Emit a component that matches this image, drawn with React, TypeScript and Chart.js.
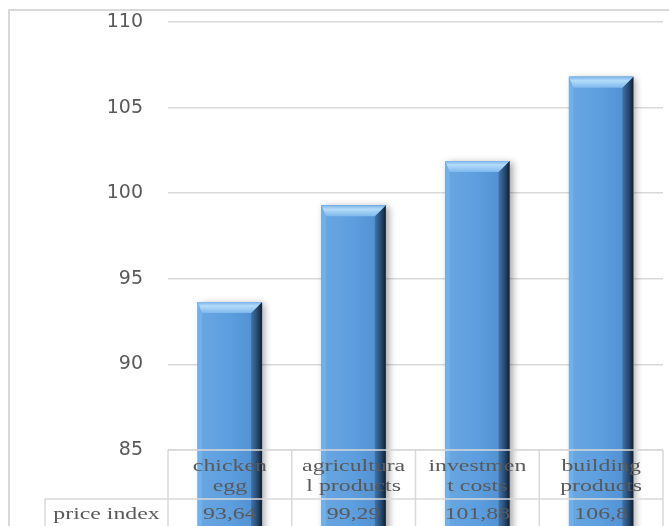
import React, { useEffect, useRef } from "react";
import { Chart, registerables } from "chart.js";

Chart.register(...registerables);

const categoryLines: string[][] = [
  ["chicken", "egg"],
  ["agricultura", "l products"],
  ["investmen", "t costs"],
  ["building", "products"],
];
const categories = categoryLines.map((l) => l.join(" "));
const seriesName = "price index";
const values = [93.64, 99.29, 101.88, 106.8];
const valueLabels = ["93,64", "99,29", "101,88", "106,8"];
const yMin = 85;
const yMax = 110;
const yStep = 5;

const GRID = "#d9d9d9";
const TEXT = "#595959";

const framePlugin = {
  id: "frame",
  beforeDraw(chart: any) {
    const ctx = chart.ctx;
    ctx.save();
    ctx.fillStyle = "#ffffff";
    ctx.fillRect(0, 0, chart.width, chart.height);
    ctx.strokeStyle = GRID;
    ctx.lineWidth = 2;
    ctx.strokeRect(9, 10, chart.width + 20, chart.height + 20);
    ctx.restore();
  },
};

const bevelPlugin = {
  id: "bevel",
  beforeDatasetsDraw(chart: any) {
    const ctx = chart.ctx;
    const meta = chart.getDatasetMeta(0);
    ctx.save();
    meta.data.forEach((bar: any) => {
      const p = bar.getProps(["x", "y", "base", "width"], true);
      const l = p.x - p.width / 2;
      const t = p.y;
      ctx.shadowColor = "rgba(0,0,0,0.35)";
      ctx.shadowBlur = 7;
      ctx.shadowOffsetX = 3;
      ctx.shadowOffsetY = 1;
      ctx.fillStyle = "#4a86c0";
      ctx.fillRect(l, t, p.width, p.base - t);
    });
    ctx.restore();
  },
  afterDatasetsDraw(chart: any) {
    const ctx = chart.ctx;
    const meta = chart.getDatasetMeta(0);
    meta.data.forEach((bar: any) => {
      const p = bar.getProps(["x", "y", "base", "width"], true);
      const l = p.x - p.width / 2;
      const r = p.x + p.width / 2;
      const t = p.y;
      const bt = p.base;
      const b = 11;
      ctx.save();
      const fg = ctx.createLinearGradient(l, 0, r, 0);
      fg.addColorStop(0, "#6aa7e0");
      fg.addColorStop(0.5, "#5c9edf");
      fg.addColorStop(1, "#4f8ccc");
      ctx.fillStyle = fg;
      ctx.fillRect(l, t, r - l, bt - t);
      ctx.beginPath();
      ctx.moveTo(l, t);
      ctx.lineTo(l + b * 0.4, t + b);
      ctx.lineTo(l + b * 0.4, bt - b);
      ctx.lineTo(l, bt);
      ctx.closePath();
      ctx.fillStyle = "#72b0e8";
      ctx.fill();
      const bg = ctx.createLinearGradient(0, bt - b, 0, bt);
      bg.addColorStop(0, "#4a8bcf");
      bg.addColorStop(1, "#2c5f96");
      ctx.beginPath();
      ctx.moveTo(l, bt);
      ctx.lineTo(r, bt);
      ctx.lineTo(r - b, bt - b);
      ctx.lineTo(l + b * 0.4, bt - b);
      ctx.closePath();
      ctx.fillStyle = bg;
      ctx.fill();
      const rg = ctx.createLinearGradient(r - b, 0, r, 0);
      rg.addColorStop(0, "#3f75ad");
      rg.addColorStop(0.6, "#24476e");
      rg.addColorStop(1, "#0f1f33");
      ctx.beginPath();
      ctx.moveTo(r, t);
      ctx.lineTo(r, bt);
      ctx.lineTo(r - b, bt - b);
      ctx.lineTo(r - b, t + b);
      ctx.closePath();
      ctx.fillStyle = rg;
      ctx.fill();
      const tg = ctx.createLinearGradient(0, t, 0, t + b);
      tg.addColorStop(0, "#7ab4ea");
      tg.addColorStop(0.35, "#b4dcfa");
      tg.addColorStop(1, "#7fb8ec");
      ctx.beginPath();
      ctx.moveTo(l, t);
      ctx.lineTo(r, t);
      ctx.lineTo(r - b, t + b);
      ctx.lineTo(l + b * 0.4, t + b);
      ctx.closePath();
      ctx.fillStyle = tg;
      ctx.fill();
      ctx.restore();
    });
  },
};

function stretchText(ctx: any, text: string, x: number, y: number) {
  ctx.save();
  ctx.translate(x, y);
  ctx.scale(1.4, 1);
  ctx.fillText(text, 0, 0);
  ctx.restore();
}

const tablePlugin = {
  id: "dataTable",
  afterDraw(chart: any) {
    const ctx = chart.ctx;
    const area = chart.chartArea;
    const xs = chart.scales.x;
    const n = categories.length;
    const cw = (area.right - area.left) / n;
    const top = area.bottom;
    const mid = top + 49;
    const bottom = chart.height + 5;
    const labelLeft = 45;
    ctx.save();
    ctx.strokeStyle = GRID;
    ctx.lineWidth = 1.5;
    ctx.beginPath();
    ctx.moveTo(area.left, top);
    ctx.lineTo(area.right, top);
    ctx.moveTo(labelLeft, mid);
    ctx.lineTo(area.right, mid);
    ctx.moveTo(labelLeft, mid);
    ctx.lineTo(labelLeft, bottom);
    for (let i = 0; i <= n; i++) {
      const x = i < n ? xs.getPixelForValue(i) - cw / 2 : xs.getPixelForValue(n - 1) + cw / 2;
      ctx.moveTo(x, top);
      ctx.lineTo(x, bottom);
    }
    ctx.stroke();

    ctx.fillStyle = TEXT;
    ctx.font = "17px 'Liberation Serif', 'Times New Roman', serif";
    ctx.textAlign = "center";
    ctx.textBaseline = "alphabetic";
    categoryLines.forEach((lines, i) => {
      const cx = xs.getPixelForValue(i);
      stretchText(ctx, lines[0], cx, top + 21);
      stretchText(ctx, lines[1], cx, top + 41);
      stretchText(ctx, valueLabels[i], cx, mid + 20);
    });
    stretchText(ctx, seriesName, (labelLeft + area.left) / 2, mid + 20);
    ctx.restore();
  },
};

export default function App() {
  const ref = useRef<HTMLCanvasElement | null>(null);
  useEffect(() => {
    if (!ref.current) return;
    const chart = new Chart(ref.current, {
      type: "bar",
      data: {
        labels: categories,
        datasets: [
          {
            label: seriesName,
            data: values,
            backgroundColor: "#5b9bd5",
            borderWidth: 0,
            barPercentage: 0.52,
            categoryPercentage: 1,
          },
        ],
      },
      options: {
        animation: false,
        responsive: true,
        maintainAspectRatio: false,
        layout: { padding: { left: 0, top: 22, right: 6, bottom: 76 } },
        plugins: { legend: { display: false }, tooltip: { enabled: false } },
        scales: {
          x: { display: false },
          y: {
            min: yMin,
            max: yMax,
            afterFit: (s: any) => {
              s.width = 168;
              s.paddingTop = 0;
              s.paddingBottom = 0;
            },
            border: { display: false },
            grid: { color: GRID, lineWidth: 1.5, drawTicks: false },
            ticks: {
              stepSize: yStep,
              padding: 25,
              color: "#595959",
              font: { family: "'DejaVu Sans', sans-serif", size: 19 },
            },
          },
        },
      },
      plugins: [framePlugin, bevelPlugin, tablePlugin],
    });
    return () => chart.destroy();
  }, []);
  return (
    <div style={{ position: "absolute", left: 0, top: 0, width: 669, height: 526, background: "#fff" }}>
      <canvas ref={ref} />
    </div>
  );
}
